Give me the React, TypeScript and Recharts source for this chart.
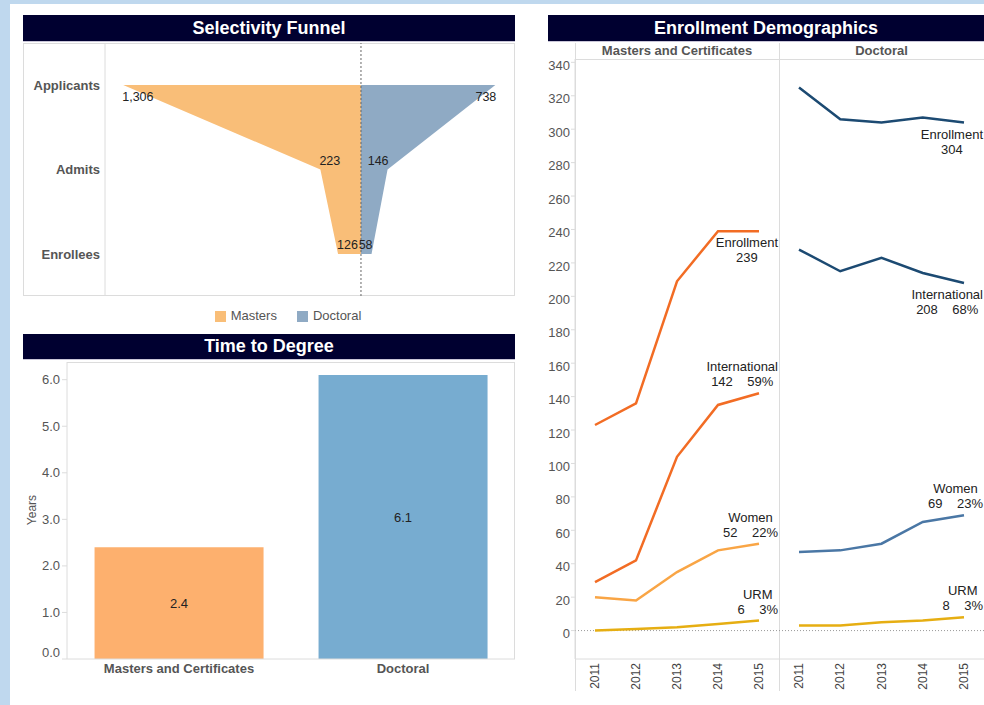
import React from "react";
import {
  ComposedChart,
  Area,
  BarChart,
  Bar,
  Cell,
  LabelList,
  LineChart,
  Line,
  XAxis,
  YAxis,
  ReferenceLine,
} from "recharts";

// Selectivity funnel
const funnelStages = ["Applicants", "Admits", "Enrollees"];
const mastersFunnel = [1306, 223, 126];
const doctoralFunnel = [738, 146, 58];

// Time to degree
const programs = ["Masters and Certificates", "Doctoral"];
const yearsToDegree = [2.4, 6.1];
const degreeTicks = [0, 1, 2, 3, 4, 5, 6];

// Enrollment demographics
const years = ["2011", "2012", "2013", "2014", "2015"];
const mastersEnrollment = [123, 136, 209, 239, 239];
const mastersInternational = [29, 42, 104, 135, 142];
const mastersWomen = [20, 18, 35, 48, 52];
const mastersUrm = [0, 1, 2, 4, 6];
const doctoralEnrollment = [325, 306, 304, 307, 304];
const doctoralInternational = [228, 215, 223, 214, 208];
const doctoralWomen = [47, 48, 52, 65, 69];
const doctoralUrm = [3, 3, 5, 6, 8];
const enrollmentTicks = [
  0, 20, 40, 60, 80, 100, 120, 140, 160, 180, 200, 220, 240, 260, 280, 300, 320, 340,
];

const FONT = '"Liberation Sans", Arial, sans-serif';
const AXIS_GREY = "#dcdcdc";
const TEXT_GREY = "#555";
const TITLE_BG = "#000030";
const FS = 13;

const funnelData = funnelStages.map((stage, i) => ({
  stage,
  masters: -mastersFunnel[i],
  doctoral: doctoralFunnel[i],
}));

const degreeData = programs.map((program, i) => ({ program, years: yearsToDegree[i] }));

const byYear = (enr: number[], intl: number[], women: number[], urm: number[]) =>
  years.map((year, i) => ({
    year,
    enrollment: enr[i],
    international: intl[i],
    women: women[i],
    urm: urm[i],
  }));

const mastersData = byYear(mastersEnrollment, mastersInternational, mastersWomen, mastersUrm);
const doctoralData = byYear(doctoralEnrollment, doctoralInternational, doctoralWomen, doctoralUrm);

let measureCtx: CanvasRenderingContext2D | null = null;
const textWidth = (s: string) => {
  if (!measureCtx) measureCtx = document.createElement("canvas").getContext("2d");
  if (!measureCtx) return s.length * 6.7;
  measureCtx.font = `${FS}px ${FONT}`;
  return measureCtx.measureText(s).width;
};

const pointOf = (p: any) => ({
  x: typeof p.x === "number" ? p.x : p.viewBox?.x,
  y: typeof p.y === "number" ? p.y : p.viewBox?.y,
});

const funnelLabel = (values: number[], side: "left" | "right") => (p: any) => {
  const { x, y } = pointOf(p);
  const i = p.index;
  if (x == null || y == null || values[i] == null) return null;
  const dy = i === 0 ? 16 : -5;
  return (
    <text
      x={side === "left" ? x - 1 : x + 1}
      y={y + dy}
      textAnchor={side === "left" ? "start" : "end"}
      fontSize={12.5}
      fill="#222"
    >
      {values[i].toLocaleString("en-US")}
    </text>
  );
};

// two-line label at the last point of a series, kept inside its pane
const endLabel =
  (name: string, values: number[], totals: number[] | null, below: boolean, paneRight: number) =>
  (p: any) => {
    const last = values.length - 1;
    if (p.index !== last) return null;
    const { x, y } = pointOf(p);
    if (x == null || y == null) return null;
    const v = values[last];
    const line2 = totals ? `${v}    ${Math.round((v / totals[last]) * 100)}%` : `${v}`;
    const w = Math.max(textWidth(name), textWidth(line2));
    const cx = Math.min(x, paneRight - w / 2 - 1);
    const y1 = below ? y + 16 : y - 22;
    return (
      <text
        x={cx}
        y={y1}
        textAnchor="middle"
        fontSize={FS}
        fill="#222"
        style={{ whiteSpace: "pre" }}
      >
        <tspan x={cx}>{name}</tspan>
        <tspan x={cx} dy={15}>
          {line2}
        </tspan>
      </text>
    );
  };

const YearTick = (p: any) => (
  <text
    x={p.x}
    y={p.y}
    transform={`rotate(-90 ${p.x} ${p.y})`}
    textAnchor="end"
    dy="0.35em"
    fontSize={12}
    fill="#444"
  >
    {p.payload.value}
  </text>
);

const DegreeTick = (p: any) => (
  <text
    x={p.x}
    y={p.y + (p.payload.value === 0 ? -7 : 0)}
    textAnchor="end"
    dy="0.35em"
    fontSize={FS}
    fill={TEXT_GREY}
  >
    {Number(p.payload.value).toFixed(1)}
  </text>
);

const Title = ({ text, left, top, width, height }: any) => (
  <div
    style={{
      position: "absolute",
      left,
      top,
      width,
      height,
      background: TITLE_BG,
      color: "#fff",
      fontWeight: "bold",
      fontSize: 18,
      lineHeight: `${height}px`,
      textAlign: "center",
      borderBottom: "1px solid #c9c6d8",
    }}
  >
    {text}
  </div>
);

const Box = (props: any) => (
  <div style={{ position: "absolute", boxSizing: "border-box", ...props }} />
);

const Pos = ({ left, top, children }: any) => (
  <div style={{ position: "absolute", left, top }}>{children}</div>
);

const App = () => {
  const demoLines = (
    enr: number[],
    intl: number[],
    women: number[],
    urm: number[],
    colors: string[],
    intlBelow: boolean,
    paneRight: number
  ) => [
    <Line
      key="enrollment"
      type="linear"
      dataKey="enrollment"
      stroke={colors[0]}
      strokeWidth={2.5}
      dot={false}
      activeDot={false}
      isAnimationActive={false}
      label={endLabel("Enrollment", enr, null, true, paneRight)}
    />,
    <Line
      key="international"
      type="linear"
      dataKey="international"
      stroke={colors[1]}
      strokeWidth={2.5}
      dot={false}
      activeDot={false}
      isAnimationActive={false}
      label={endLabel("International", intl, enr, intlBelow, paneRight)}
    />,
    <Line
      key="women"
      type="linear"
      dataKey="women"
      stroke={colors[2]}
      strokeWidth={2.5}
      dot={false}
      activeDot={false}
      isAnimationActive={false}
      label={endLabel("Women", women, enr, false, paneRight)}
    />,
    <Line
      key="urm"
      type="linear"
      dataKey="urm"
      stroke={colors[3]}
      strokeWidth={2.5}
      dot={false}
      activeDot={false}
      isAnimationActive={false}
      label={endLabel("URM", urm, enr, false, paneRight)}
    />,
  ];

  const header = {
    position: "absolute" as const,
    top: 43,
    height: 16,
    lineHeight: "16px",
    textAlign: "center" as const,
    fontSize: FS,
    fontWeight: "bold" as const,
    color: TEXT_GREY,
  };

  return (
    <div
      style={{
        position: "absolute",
        left: 0,
        top: 0,
        width: 984,
        height: 705,
        overflow: "hidden",
        background: "#bfd8ee",
        fontFamily: FONT,
      }}
    >
      <Box left={10} top={4} width={974} height={701} background="#fff" />

      {/* Selectivity Funnel */}
      <Title text="Selectivity Funnel" left={23} top={15} width={492} height={26} />
      <Box left={23} top={43} width={492} height={253} border={`1px solid ${AXIS_GREY}`} />
      <Pos left={23} top={43}>
        <ComposedChart
          layout="vertical"
          width={492}
          height={253}
          data={funnelData}
          margin={{ top: 0, right: 0, bottom: 0, left: 0 }}
        >
          <XAxis type="number" domain={[-1406, 846]} allowDataOverflow hide />
          <YAxis
            type="category"
            dataKey="stage"
            width={82}
            scale="point"
            padding={{ top: 42, bottom: 42 }}
            axisLine={{ stroke: AXIS_GREY }}
            tickLine={false}
            tickSize={0}
            tickMargin={5}
            tick={{ fill: TEXT_GREY, fontSize: FS, fontWeight: "bold" }}
          />
          <Area
            type="linear"
            dataKey="masters"
            fill="#f9be78"
            fillOpacity={1}
            stroke="none"
            isAnimationActive={false}
            label={funnelLabel(mastersFunnel, "left")}
          />
          <Area
            type="linear"
            dataKey="doctoral"
            fill="#8faac4"
            fillOpacity={1}
            stroke="none"
            isAnimationActive={false}
            label={funnelLabel(doctoralFunnel, "right")}
          />
          <ReferenceLine x={0} stroke="#666" strokeDasharray="2 2" />
        </ComposedChart>
      </Pos>
      <div
        style={{
          position: "absolute",
          left: 23,
          top: 308,
          width: 530,
          display: "flex",
          justifyContent: "center",
          fontSize: FS,
          color: TEXT_GREY,
          lineHeight: "16px",
          gap: 20,
        }}
      >
        <span style={{ display: "flex", alignItems: "center" }}>
          <span style={{ width: 11, height: 11, background: "#f9be78", marginRight: 5 }} />
          Masters
        </span>
        <span style={{ display: "flex", alignItems: "center" }}>
          <span style={{ width: 11, height: 11, background: "#8faac4", marginRight: 5 }} />
          Doctoral
        </span>
      </div>

      {/* Time to Degree */}
      <Title text="Time to Degree" left={23} top={334} width={492} height={25} />
      <Box
        left={67}
        top={362}
        width={448}
        height={297}
        borderTop={`1px solid ${AXIS_GREY}`}
        borderRight={`1px solid ${AXIS_GREY}`}
      />
      <div
        style={{
          position: "absolute",
          left: 12,
          top: 502,
          width: 40,
          height: 16,
          lineHeight: "16px",
          textAlign: "center",
          fontSize: 12,
          color: TEXT_GREY,
          transform: "rotate(-90deg)",
        }}
      >
        Years
      </div>
      <Pos left={23} top={362}>
        <BarChart
          width={492}
          height={338}
          data={degreeData}
          margin={{ top: 0, right: 0, bottom: 0, left: 0 }}
          barCategoryGap="12.3%"
        >
          <XAxis
            dataKey="program"
            height={41}
            tickSize={2}
            tickMargin={3}
            tickLine={false}
            axisLine={{ stroke: AXIS_GREY }}
            tick={{ fill: TEXT_GREY, fontSize: FS, fontWeight: "bold" }}
          />
          <YAxis
            width={44}
            domain={[0, 6.38]}
            allowDataOverflow
            ticks={degreeTicks}
            interval={0}
            tickSize={5}
            tickMargin={2}
            axisLine={{ stroke: AXIS_GREY }}
            tickLine={{ stroke: AXIS_GREY }}
            tick={<DegreeTick />}
          />
          <Bar dataKey="years" isAnimationActive={false}>
            {degreeData.map((d, i) => (
              <Cell key={d.program} fill={i === 0 ? "#fdb06e" : "#77acd0"} />
            ))}
            <LabelList
              dataKey="years"
              position="center"
              fill="#222"
              fontSize={FS}
              formatter={(v: any) => Number(v).toFixed(1)}
            />
          </Bar>
        </BarChart>
      </Pos>

      {/* Enrollment Demographics */}
      <Title text="Enrollment Demographics" left={548} top={15} width={436} height={26} />
      <div style={{ ...header, left: 575, width: 204 }}>Masters and Certificates</div>
      <div style={{ ...header, left: 779, width: 205 }}>Doctoral</div>
      <Box left={575} top={59} width={409} height={1} background={AXIS_GREY} />
      <Box left={575} top={43} width={1} height={648} background={AXIS_GREY} />
      <Box left={779} top={43} width={1} height={648} background={AXIS_GREY} />

      <Pos left={548} top={59}>
        <LineChart
          width={231}
          height={632}
          data={mastersData}
          margin={{ top: 0, right: 0, bottom: 0, left: 0 }}
        >
          <XAxis
            dataKey="year"
            padding={{ left: 20, right: 20 }}
            height={32}
            interval={0}
            tickSize={4}
            tickMargin={0}
            tickLine={false}
            axisLine={{ stroke: AXIS_GREY }}
            tick={<YearTick />}
          />
          <YAxis
            width={27}
            domain={[-17, 342]}
            allowDataOverflow
            ticks={enrollmentTicks}
            interval={0}
            tickSize={4}
            tickMargin={1}
            axisLine={{ stroke: AXIS_GREY }}
            tickLine={{ stroke: AXIS_GREY }}
            tick={{ fill: TEXT_GREY, fontSize: FS, dy: 3 }}
          />
          <ReferenceLine y={0} stroke="#999" strokeDasharray="1 2" />
          {demoLines(
            mastersEnrollment,
            mastersInternational,
            mastersWomen,
            mastersUrm,
            ["#f26c24", "#f26c24", "#f9a545", "#e6ae12"],
            false,
            231
          )}
        </LineChart>
      </Pos>

      <Pos left={779} top={59}>
        <LineChart
          width={205}
          height={632}
          data={doctoralData}
          margin={{ top: 0, right: 0, bottom: 0, left: 0 }}
        >
          <XAxis
            dataKey="year"
            padding={{ left: 20, right: 20 }}
            height={32}
            interval={0}
            tickSize={4}
            tickMargin={0}
            tickLine={false}
            axisLine={{ stroke: AXIS_GREY }}
            tick={<YearTick />}
          />
          <YAxis hide domain={[-17, 342]} allowDataOverflow />
          <ReferenceLine y={0} stroke="#999" strokeDasharray="1 2" />
          {demoLines(
            doctoralEnrollment,
            doctoralInternational,
            doctoralWomen,
            doctoralUrm,
            ["#1c4a72", "#1c4a72", "#4a77a5", "#e6ae12"],
            true,
            205
          )}
        </LineChart>
      </Pos>
    </div>
  );
};

export default App;
